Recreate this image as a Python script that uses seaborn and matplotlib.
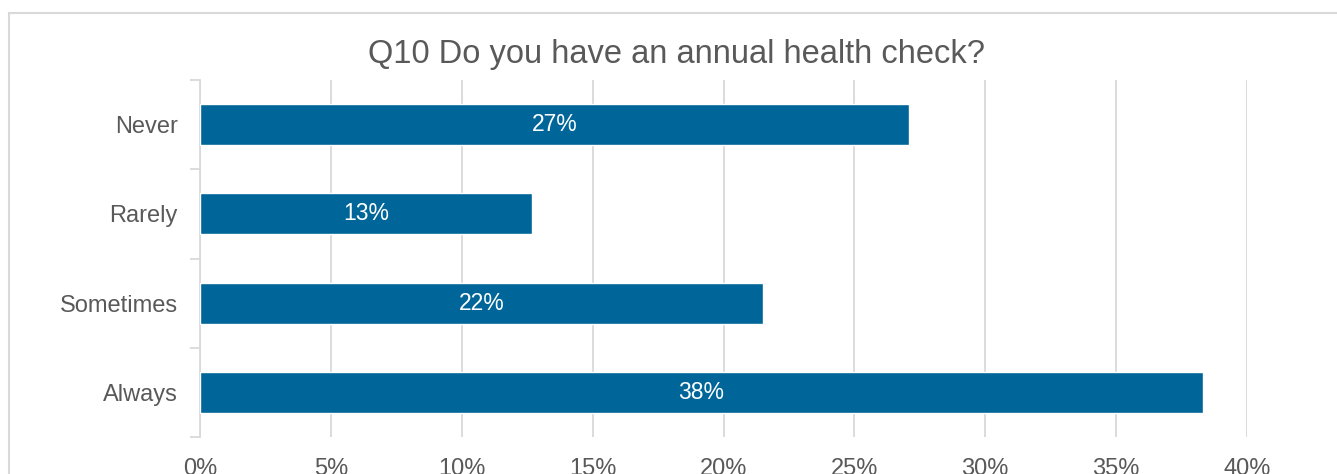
import matplotlib
matplotlib.use("Agg")
import matplotlib.pyplot as plt
from matplotlib.patches import Rectangle
from matplotlib.ticker import FixedLocator, PercentFormatter
import seaborn as sns
import pandas as pd

categories = ["Never", "Rarely", "Sometimes", "Always"]
values = [27.1, 12.7, 21.5, 38.3]
labels = ["27%", "13%", "22%", "38%"]
xticks = [0, 5, 10, 15, 20, 25, 30, 35, 40]
title = "Q10 Do you have an annual health check?"

sns.set_theme(style="white")
plt.rcParams["font.family"] = ["Liberation Sans", "DejaVu Sans"]

TXT = "#595959"
GRID = "#d9d9d9"
BAR = "#006699"

df = pd.DataFrame({"cat": categories, "val": values})

fig = plt.figure(figsize=(13.37, 4.74), dpi=100)
ax = fig.add_axes([200 / 1337, 1 - 437 / 474, 1047 / 1337, 357 / 474])

sns.barplot(data=df, y="cat", x="val", order=categories, orient="h",
            color=BAR, saturation=1, width=0.46, ax=ax, zorder=3)

ax.set_xlim(0, 40)
ax.set_ylim(3.5, -0.5)
ax.set_xticks(xticks)
ax.xaxis.set_major_formatter(PercentFormatter(decimals=0))
ax.grid(axis="x", color=GRID, linewidth=1.3, zorder=0)
ax.set_axisbelow(True)
ax.tick_params(axis="x", length=0, pad=15, labelsize=17, labelcolor=TXT)
ax.tick_params(axis="y", which="major", length=0, pad=16, labelsize=17, labelcolor=TXT)
ax.yaxis.set_minor_locator(FixedLocator([-0.5, 0.5, 1.5, 2.5, 3.5]))
ax.tick_params(axis="y", which="minor", length=7, width=1.3, color=GRID, left=True)
ax.set_xlabel("")
ax.set_ylabel("")
for s in ["top", "right", "bottom"]:
    ax.spines[s].set_visible(False)
ax.spines["left"].set_color(GRID)
ax.spines["left"].set_linewidth(1.3)

for cont in ax.containers:
    ax.bar_label(cont, labels=labels, label_type="center", color="white", fontsize=16.5)

fig.text(677 / 1337, 1 - 55 / 474, title, ha="center", va="center",
         fontsize=23.5, color=TXT)

border = Rectangle((9 / 1337, -0.2), 1.1, 1.2 - 13 / 474, transform=fig.transFigure,
                   fill=False, edgecolor=GRID, linewidth=1.5, clip_on=False)
fig.patches.append(border)

fig.savefig("out.png", dpi=100)
